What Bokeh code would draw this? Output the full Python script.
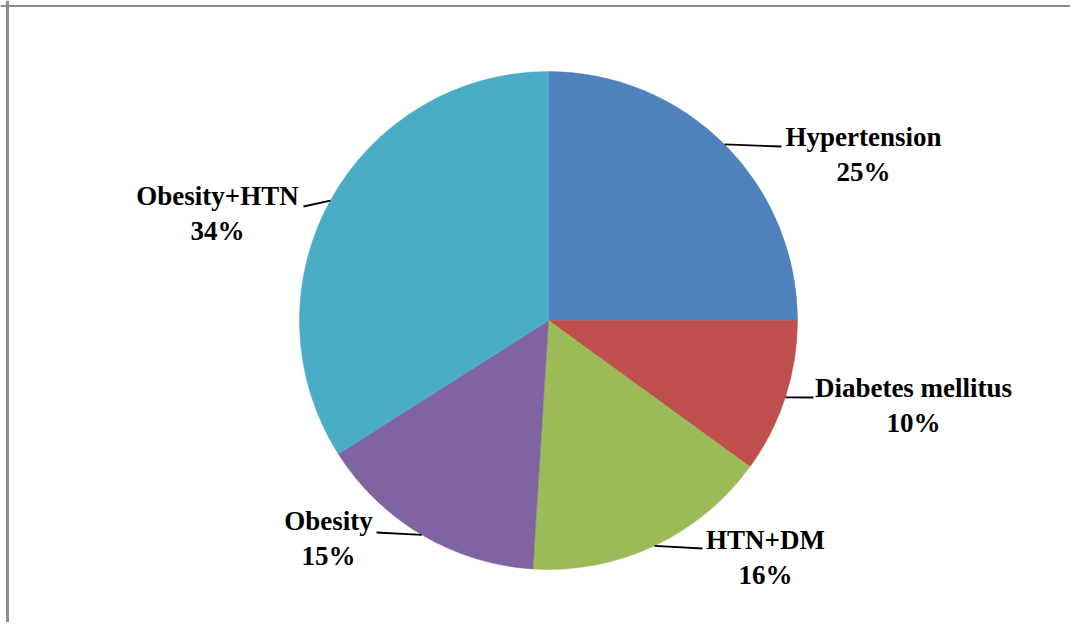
import math
from bokeh.plotting import figure
from bokeh.models import Range1d, Span, ColumnDataSource
from bokeh.core.properties import value
from bokeh.embed import file_html
from bokeh.resources import INLINE

categories = ["Hypertension", "Diabetes mellitus", "HTN+DM", "Obesity", "Obesity+HTN"]
values = [25, 10, 16, 15, 34]
colors = ["#4F81BD", "#C0504D", "#9BBB59", "#8064A2", "#4BACC6"]

# layout (pixel coordinates of the image)
W, H = 1070, 622
CX, CY, R = 548, 320, 249
label_pos = [(863, 154), (913, 405), (765, 557), (328, 538), (217, 213)]
leader_end = [(781, 146), (813, 397), (702, 548), (376, 532), (303, 206)]


def py(y):
    return H - y


p = figure(width=W, height=H, x_range=Range1d(0, W), y_range=Range1d(0, H),
           output_backend="svg", toolbar_location=None, min_border=0)
p.axis.visible = False
p.grid.visible = False
p.outline_line_color = None
p.background_fill_color = "white"
p.border_fill_color = "white"

total = sum(values)
starts, ends, mids = [], [], []
a = math.pi / 2
for v in values:
    b = a - 2 * math.pi * v / total
    starts.append(a)
    ends.append(b)
    mids.append((a + b) / 2)
    a = b

src = ColumnDataSource(dict(start=starts, end=ends, color=colors))
p.wedge(x=CX, y=py(CY), radius=R, start_angle="start", end_angle="end",
        direction="clock", fill_color="color", line_color="color", line_width=0.5,
        source=src)

# leader lines
for m, (ex, ey) in zip(mids, leader_end):
    sx = CX + R * math.cos(m)
    sy = CY - R * math.sin(m)
    p.line([sx, ex], [py(sy), py(ey)], line_color="black", line_width=1.8)

texts = [f"{c}\n{v}%" for c, v in zip(categories, values)]
p.text(x=[q[0] for q in label_pos], y=[py(q[1]) for q in label_pos], text=texts,
       text_font=value("Liberation Serif"), text_font_style="bold",
       text_font_size="27px", text_align="center", text_baseline="middle",
       text_color="black", text_line_height=1.17)

# frame lines (top and left)
p.add_layout(Span(location=py(5.5), dimension="width", line_color="#8c8c8c", line_width=2))
p.add_layout(Span(location=7, dimension="height", line_color="#8c8c8c", line_width=3))

open("out.html", "w").write(file_html(p, INLINE))
